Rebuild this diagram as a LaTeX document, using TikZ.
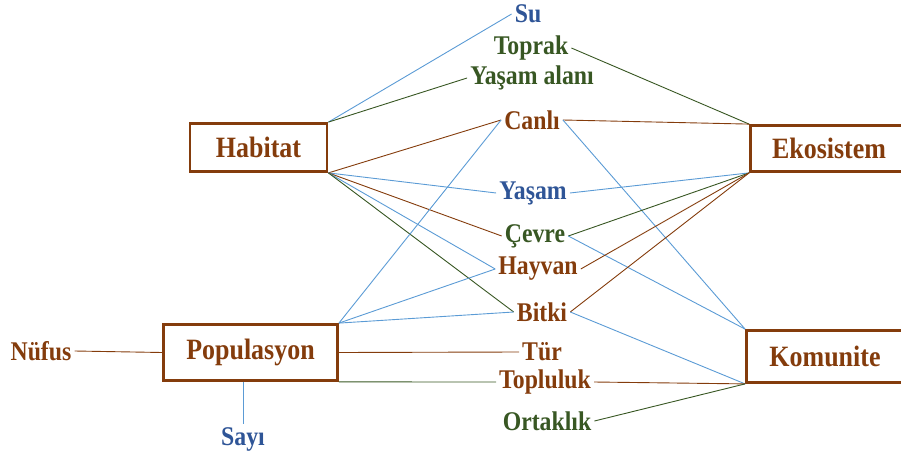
\documentclass[tikz,border=0pt]{standalone}
\usepackage{fontspec}
\setmainfont[FakeStretch=0.88]{Liberation Serif}
\definecolor{kahve}{RGB}{132,60,12}
\definecolor{yesil}{RGB}{56,87,35}
\definecolor{mavi}{RGB}{47,85,151}
\definecolor{acikmavi}{RGB}{91,155,213}
\begin{document}
\begin{tikzpicture}[x=1pt,y=-1pt,
    k/.style={rectangle,draw=kahve,line width=2.8pt,text=kahve,font=\fontsize{29.5}{32}\selectfont\bfseries},
    t/.style={inner sep=3pt,font=\fontsize{27}{30}\selectfont\bfseries},
    b/.style={draw=acikmavi,line width=0.9pt},
    g/.style={draw=yesil,line width=0.9pt},
    r/.style={draw=kahve,line width=0.9pt}]
                \useasboundingbox (0,0) rectangle (901,457);
                \node[k,minimum width=137pt,minimum height=48pt] (hab) at (258.5,147.5) {Habitat};
                \node[k,minimum width=174pt,minimum height=56pt] (pop) at (250.5,352.5) {Populasyon};
                \node[k,minimum width=157pt,minimum height=46pt] (eko) at (829,148.5) {Ekosistem};
                \node[k,minimum width=157pt,minimum height=52pt] (kom) at (825,356.5) {Komunite};

                \node[t,text=mavi] (su) at (528,14) {Su};
                \node[t,text=yesil] (toprak) at (531,48) {Toprak};
                \node[t,text=yesil] (alan) at (532,78) {Yaşam alanı};
                \node[t,text=kahve] (canli) at (532,120) {Canlı};
                \node[t,text=mavi] (yasam) at (533,193) {Yaşam};
                \node[t,text=yesil] (cevre) at (535,236) {Çevre};
                \node[t,text=kahve] (hayvan) at (538,269) {Hayvan};
                \node[t,text=kahve] (bitki) at (542,312) {Bitki};
                \node[t,text=kahve] (tur) at (542,352) {Tür};
                \node[t,text=kahve] (topluluk) at (545,382) {Topluluk};
                \node[t,text=yesil] (ortaklik) at (547,421) {Ortaklık};
                \node[t,text=kahve] (nufus) at (41,351) {Nüfus};
                \node[t,text=mavi] (sayi) at (243,439) {Sayı};

                \draw[b] (hab.north east) to (su.west);
                \draw[g] (hab.north east) to (alan.west);
                \draw[r] (hab.south east) to (canli.west);
                \draw[b] (hab.south east) to (yasam.west);
                \draw[r] (hab.south east) to (cevre.west);
                \draw[b] (hab.south east) to (hayvan.west);
                \draw[g] (hab.south east) to (bitki.west);

                \draw[b] (pop.north east) to (canli.west);
                \draw[b] (pop.north east) to (hayvan.west);
                \draw[b] (pop.north east) to (bitki.west);
                \draw[r] (pop.east) to (tur.west);
                \draw[g] (pop.south east) to (topluluk.west);
                \draw[r] (nufus.east) to (pop.west);
                \draw[b] (sayi.north) to (sayi.north |- pop.south);

                \draw[g] (toprak.east) to (eko.north west);
                \draw[r] (canli.east) to (eko.north west);
                \draw[b] (canli.east) to (kom.north west);
                \draw[b] (yasam.east) to (eko.south west);
                \draw[g] (cevre.east) to (eko.south west);
                \draw[b] (cevre.east) to (kom.north west);
                \draw[r] (hayvan.east) to (eko.south west);
                \draw[r] (bitki.east) to (eko.south west);
                \draw[b] (bitki.east) to (kom.south west);
                \draw[r] (topluluk.east) to (kom.south west);
                \draw[g] (ortaklik.east) to (kom.south west);
            \end{tikzpicture}
\end{document}
